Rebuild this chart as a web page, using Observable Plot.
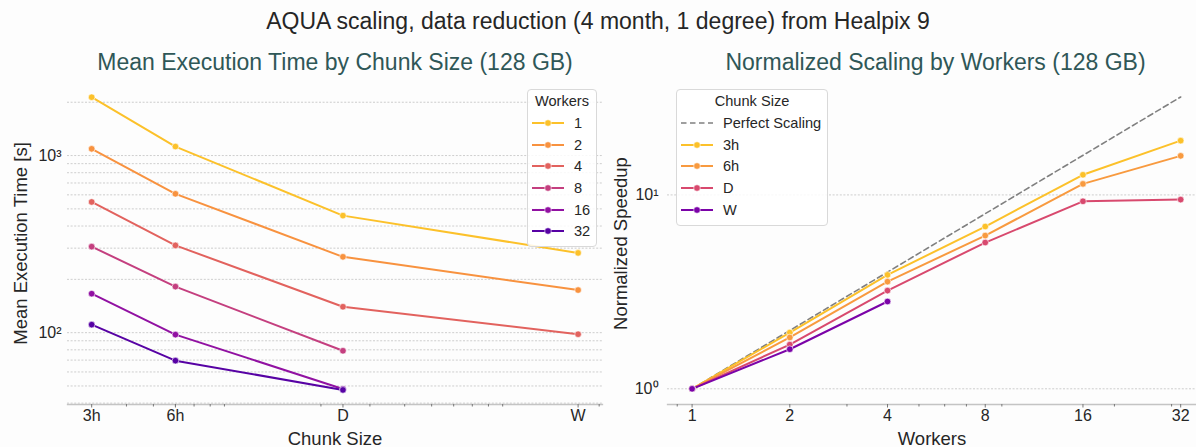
<!DOCTYPE html>
<html>
<head>
<meta charset="utf-8">
<script src="https://cdn.jsdelivr.net/npm/d3@7"></script>
<script src="https://cdn.jsdelivr.net/npm/@observablehq/plot@0.6"></script>
<style>
  html, body { margin: 0; padding: 0; background: #ffffff; }
  body { font-family: "Liberation Sans", Arial, sans-serif; }
  #fig { position: relative; width: 1196px; height: 447px; overflow: hidden; background: #fdfdfd; }
  .abs { position: absolute; }
  .title { left: 0; width: 1196px; top: 8px; line-height: 26px; text-align: center; font-size: 23px; color: #262626; }
  .sub { top: 49px; line-height: 26px; text-align: center; font-size: 23px; color: #2f5757; }
  .legend { border: 1px solid #d9d9d9; border-radius: 4px; background: rgba(255,255,255,0.85); font-size: 14.6px; color: #262626; box-sizing: border-box; }
  .legend .lt { text-align: center; margin-top: 1px; height: 21px; line-height: 21px; }
  .legend .row { display: flex; align-items: center; height: 21.7px; }
  .legend svg { display: block; }
  svg.abs { overflow: visible; }
</style>
</head>
<body>
<div id="fig"></div>
<script>
// ---------- data ----------
const chunkSizes = ["3h", "6h", "D", "W"];
const chunkHours = [3, 6, 24, 168];
const workerCounts = [1, 2, 4, 8, 16, 32];

// mean execution time [s] per chunk size, one array per worker count
const timeW1  = [2135, 1124, 458, 282];
const timeW2  = [1091, 608, 268, 174];
const timeW4  = [547, 311, 140, 98];
const timeW8  = [306, 182, 79];
const timeW16 = [166, 97.5, 48.1];
const timeW32 = [111, 69.5, 47.5];

// normalized speedup per worker count, one array per chunk size
const speed3h = [1, 1.95, 3.87, 6.87, 12.7, 19.05];
const speed6h = [1, 1.84, 3.57, 6.17, 11.4, 15.9];
const speedD  = [1, 1.69, 3.21, 5.68, 9.27, 9.46];
const speedW  = [1, 1.60, 2.82];

const perfectScaling = [1, 32];

// ---------- styles ----------
const workerColors = ["#fcc12a", "#f8923f", "#e2625e", "#c43f7f", "#9111a2", "#5702a4"];
const chunkColors = ["#fcc12a", "#f89a3f", "#d8496e", "#7b03a8"];
const font = '"Liberation Sans", Arial, sans-serif';

// ---------- tables ----------
const timeSeries = [timeW1, timeW2, timeW4, timeW8, timeW16, timeW32];
const timeRows = [];
timeSeries.forEach((arr, i) => arr.forEach((v, j) =>
  timeRows.push({workers: String(workerCounts[i]), hours: chunkHours[j], chunk: chunkSizes[j], time: v})));

const speedSeries = [speed3h, speed6h, speedD, speedW];
const speedRows = [];
speedSeries.forEach((arr, i) => arr.forEach((v, j) =>
  speedRows.push({chunk: chunkSizes[i], workers: workerCounts[j], speedup: v})));
const perfectRows = perfectScaling.map(w => ({workers: w, speedup: w}));

const sup = {"0": "⁰", "1": "¹", "2": "²", "3": "³"};
const powFmt = d => "10" + sup[String(Math.round(Math.log10(d)))];

const gridStyle = {stroke: "#c8c8c8", strokeOpacity: 1, strokeWidth: 0.9, strokeDasharray: "2,1.6"};
const fig = document.getElementById("fig");

function styleAxisText(svg) {
  svg.querySelectorAll('g[aria-label$="axis label"]').forEach(g => {
    g.setAttribute("font-size", "18.5px");
    g.querySelectorAll("text").forEach(t => t.setAttribute("font-size", "18.5px"));
  });
  svg.querySelectorAll('g[aria-label$="tick label"]').forEach(g => {
    g.setAttribute("font-size", "16px");
    g.querySelectorAll("text").forEach(t => t.setAttribute("font-size", "16px"));
  });
}

// ---------- left chart ----------
const leftMinor = [4, 5, 6, 7, 8, 9, 20, 30, 40, 50, 60, 70, 80, 90, 200];
const leftGrid = [40, 50, 60, 70, 80, 90, 100, 200, 300, 400, 500, 600, 700, 800, 900, 1000, 2000];
const left = Plot.plot({
  width: 610, height: 447,
  marginLeft: 67, marginRight: 8, marginTop: 82, marginBottom: 43,
  style: {fontFamily: font, background: "transparent", color: "#262626", fontSize: "16px"},
  x: {type: "log", domain: [2.456, 205.6]},
  y: {type: "log", domain: [39.3, 2585]},
  color: {domain: workerCounts.map(String), range: workerColors},
  marks: [
    Plot.gridY(leftGrid, gridStyle),
    Plot.axisY([100, 1000], {tickFormat: powFmt, tickSize: 0, tickPadding: 6, label: null}),
    Plot.axisY({ticks: [], label: "Mean Execution Time [s]", labelAnchor: "center", labelArrow: "none", labelOffset: 54}),
    Plot.frame({anchor: "bottom", stroke: "#c4c4c4", strokeWidth: 1.3}),
    Plot.axisX(leftMinor, {tickSize: 2.5, tickFormat: () => "", stroke: "#777", label: null}),
    Plot.axisX(chunkHours, {tickSize: 3.5, tickFormat: () => "", stroke: "#777", label: "Chunk Size", labelAnchor: "center", labelArrow: "none", labelOffset: 40}),
    Plot.text(chunkHours, {x: d => d, text: (d, i) => chunkSizes[i], frameAnchor: "bottom", lineAnchor: "top", dy: 5, fontSize: 16, fill: "#262626"}),
    Plot.line(timeRows, {x: "hours", y: "time", z: "workers", stroke: "workers", strokeWidth: 2}),
    Plot.dot(timeRows, {x: "hours", y: "time", fill: "workers", r: 3.3, stroke: "white", strokeWidth: 0.6})
  ]
});
styleAxisText(left);
left.classList.add("abs");
left.style.left = "0px"; left.style.top = "0px";
fig.appendChild(left);

// ---------- right chart ----------
const rightMinor = [0.9, 3, 5, 6, 7, 9, 20, 30];
const right = Plot.plot({
  width: 596, height: 447,
  marginLeft: 67, marginRight: 0, marginTop: 82, marginBottom: 43,
  style: {fontFamily: font, background: "transparent", color: "#262626", fontSize: "16px"},
  x: {type: "log", base: 2, domain: [0.84, 35.8]},
  y: {type: "log", domain: [0.83, 38.0]},
  color: {domain: chunkSizes, range: chunkColors},
  marks: [
    Plot.gridY([1, 10], gridStyle),
    Plot.axisY([1, 10], {tickFormat: powFmt, tickSize: 0, tickPadding: 9, label: null}),
    Plot.axisY({ticks: [], label: "Normalized Speedup", labelAnchor: "center", labelArrow: "none", labelOffset: 54}),
    Plot.frame({anchor: "bottom", stroke: "#c4c4c4", strokeWidth: 1.3}),
    Plot.axisX(rightMinor, {tickSize: 2.5, tickFormat: () => "", stroke: "#777", label: null}),
    Plot.axisX(workerCounts, {tickSize: 3.5, tickFormat: () => "", stroke: "#777", label: "Workers", labelAnchor: "center", labelArrow: "none", labelOffset: 40}),
    Plot.text(workerCounts, {x: d => d, text: d => String(d), frameAnchor: "bottom", lineAnchor: "top", dy: 5, fontSize: 16, fill: "#262626"}),
    Plot.line(perfectRows, {x: "workers", y: "speedup", stroke: "#808080", strokeWidth: 1.6, strokeDasharray: "5.5,3.5"}),
    Plot.line(speedRows, {x: "workers", y: "speedup", z: "chunk", stroke: "chunk", strokeWidth: 2}),
    Plot.dot(speedRows, {x: "workers", y: "speedup", fill: "chunk", r: 3.3, stroke: "white", strokeWidth: 0.6})
  ]
});
styleAxisText(right);
right.classList.add("abs");
right.style.left = "600px"; right.style.top = "0px";
fig.appendChild(right);

// ---------- titles ----------
function addText(cls, text, css) {
  const d = document.createElement("div");
  d.className = "abs " + cls;
  d.textContent = text;
  Object.assign(d.style, css || {});
  fig.appendChild(d);
}
addText("title", "AQUA scaling, data reduction (4 month, 1 degree) from Healpix 9");
addText("sub", "Mean Execution Time by Chunk Size (128 GB)", {left: "67px", width: "536px"});
addText("sub", "Normalized Scaling by Workers (128 GB)", {left: "667px", width: "537px"});

// ---------- legends ----------
function sample(color, dashed) {
  const ns = "http://www.w3.org/2000/svg";
  const s = document.createElementNS(ns, "svg");
  s.setAttribute("width", 32); s.setAttribute("height", 10);
  const l = document.createElementNS(ns, "line");
  l.setAttribute("x1", 0); l.setAttribute("x2", 32); l.setAttribute("y1", 5); l.setAttribute("y2", 5);
  l.setAttribute("stroke", color); l.setAttribute("stroke-width", dashed ? 1.6 : 2);
  if (dashed) l.setAttribute("stroke-dasharray", "5.5,3.5");
  s.appendChild(l);
  if (!dashed) {
    const c = document.createElementNS(ns, "circle");
    c.setAttribute("cx", 16); c.setAttribute("cy", 5); c.setAttribute("r", 3.3);
    c.setAttribute("fill", color); c.setAttribute("stroke", "white"); c.setAttribute("stroke-width", 0.6);
    s.appendChild(c);
  }
  return s;
}
function legend(css, title, items, textGap) {
  const box = document.createElement("div");
  box.className = "abs legend";
  Object.assign(box.style, css);
  const t = document.createElement("div");
  t.className = "lt"; t.textContent = title;
  box.appendChild(t);
  for (const it of items) {
    const r = document.createElement("div");
    r.className = "row";
    r.style.paddingLeft = "4px";
    r.appendChild(sample(it.color, it.dashed));
    const lab = document.createElement("span");
    lab.textContent = it.label;
    lab.style.marginLeft = textGap + "px";
    r.appendChild(lab);
    box.appendChild(r);
  }
  fig.appendChild(box);
}
legend({left: "527px", top: "89px", width: "70px", height: "158px"}, "Workers",
  workerCounts.map((w, i) => ({label: String(w), color: workerColors[i]})), 10);
legend({left: "676px", top: "89px", width: "152px", height: "137px"}, "Chunk Size",
  [{label: "Perfect Scaling", color: "#808080", dashed: true}]
    .concat(chunkSizes.map((c, i) => ({label: c, color: chunkColors[i]}))), 10);
</script>
</body>
</html>
